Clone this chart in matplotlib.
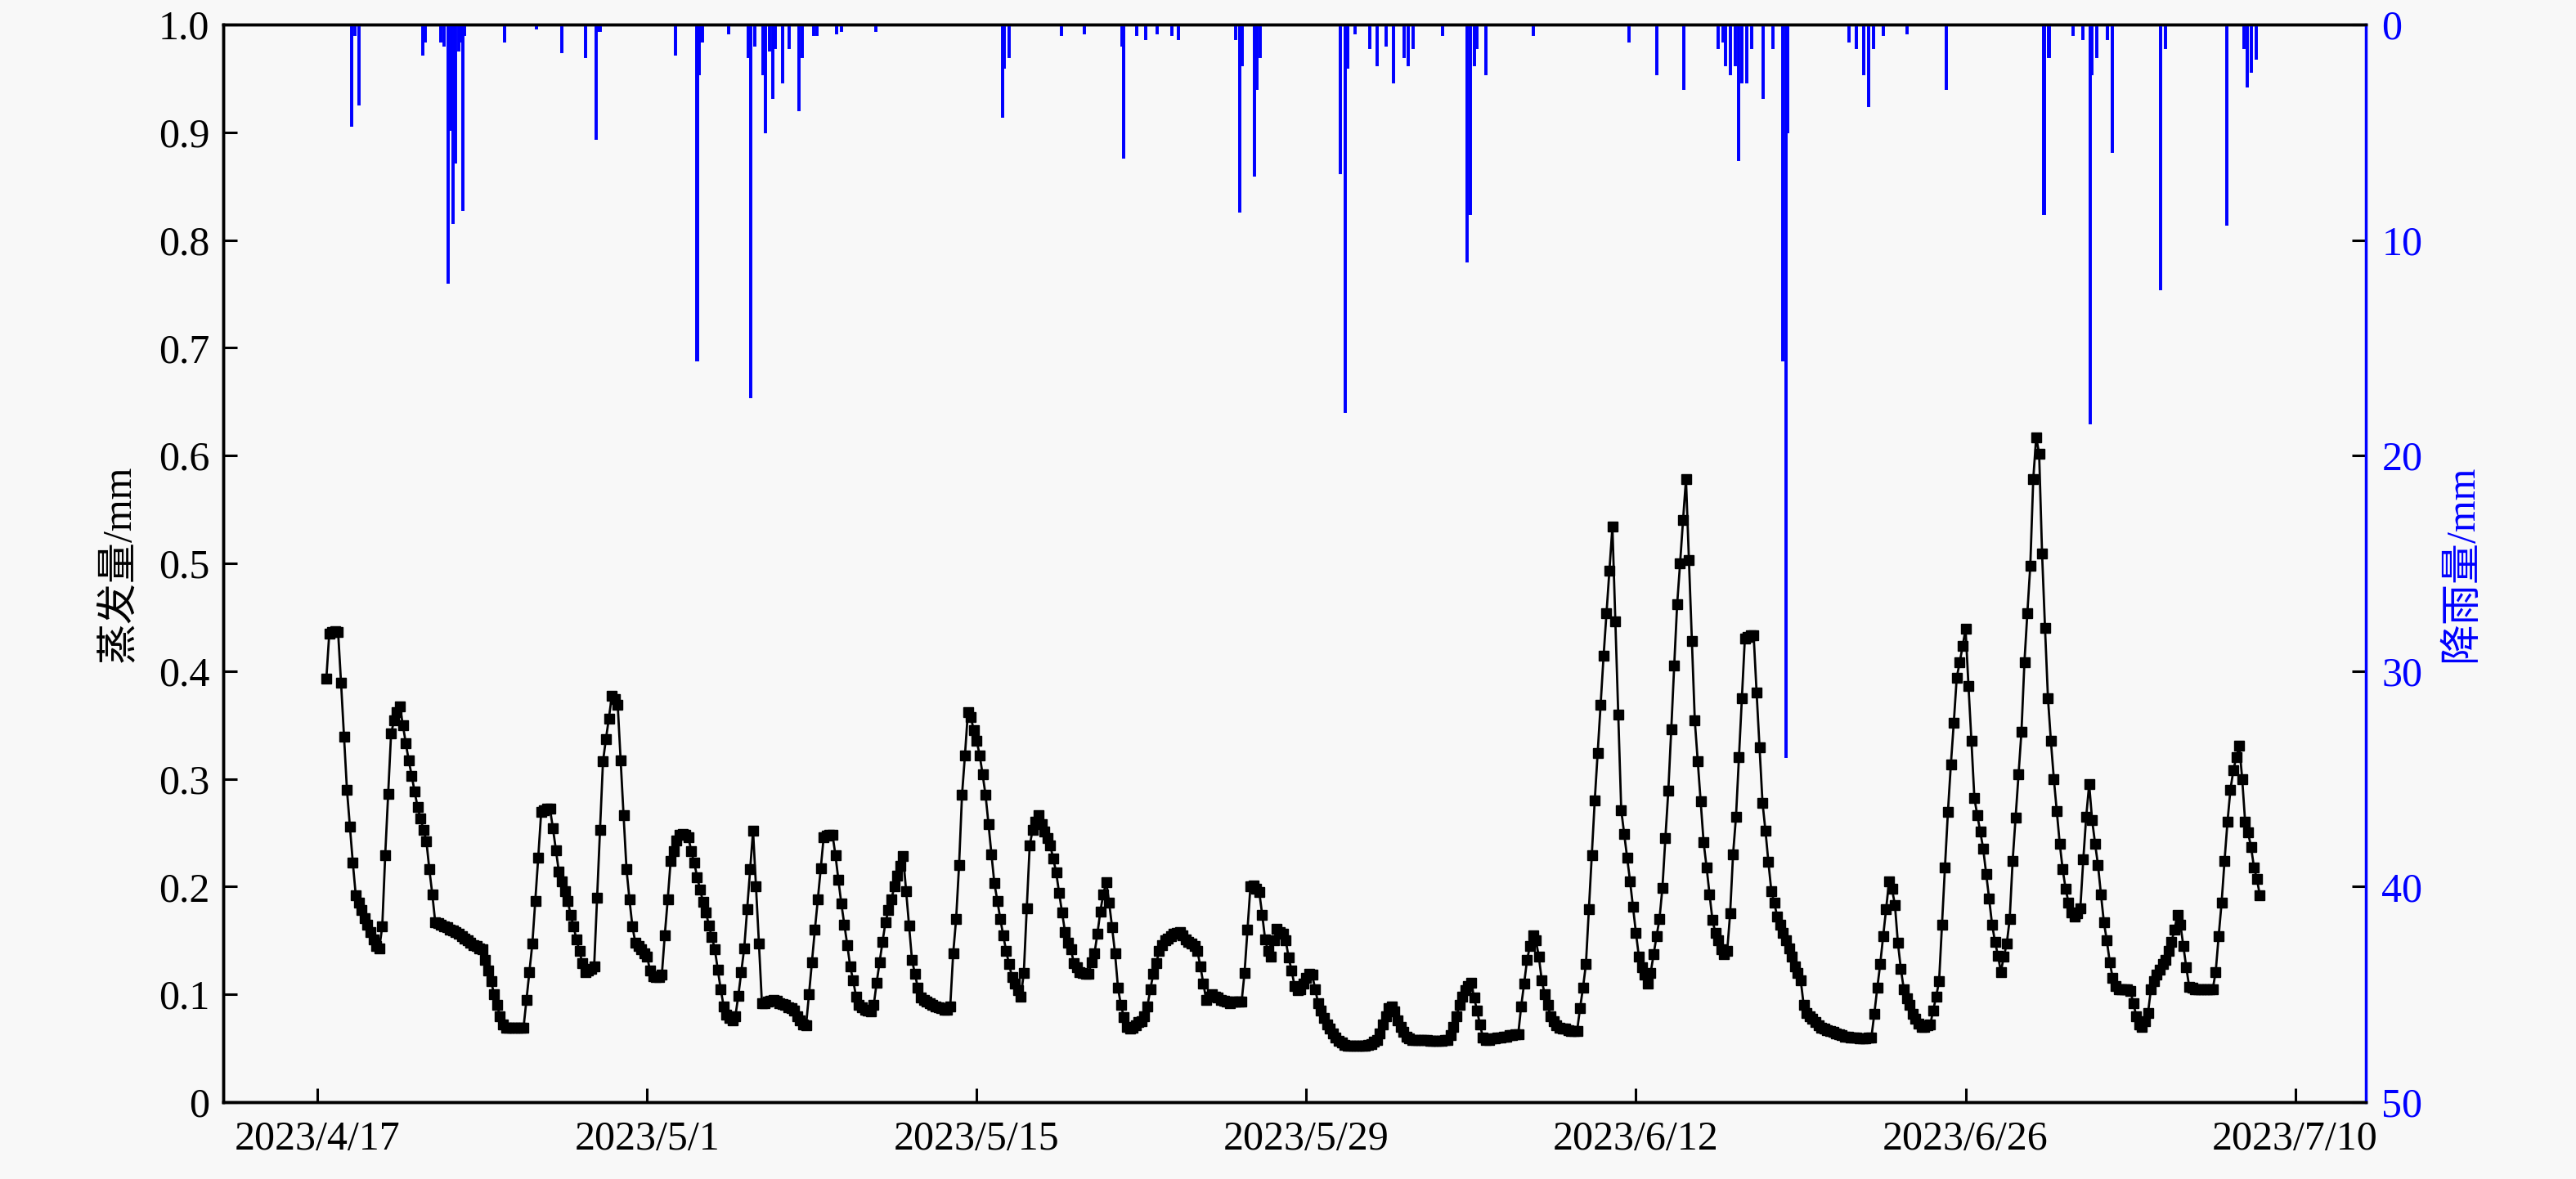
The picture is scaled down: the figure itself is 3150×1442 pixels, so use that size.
import matplotlib
matplotlib.use("Agg")
import matplotlib.pyplot as plt
import matplotlib.dates as mdates
from matplotlib.ticker import FixedLocator
import pandas as pd
import numpy as np

# ---------------- data ----------------
# evaporation (mm), 3-hourly, starting 2023-04-17 09:00
evap_start = "2023-04-17 09:00"
evap_apr = [
    0.393, 0.435, 0.436, 0.437, 0.436,
    0.389, 0.339, 0.290, 0.256, 0.222, 0.192, 0.185, 0.178,
    0.171, 0.165, 0.158, 0.151, 0.145, 0.143, 0.163, 0.229,
    0.286, 0.342, 0.354, 0.362, 0.367, 0.350, 0.333, 0.317,
    0.303, 0.288, 0.274, 0.263, 0.253, 0.242, 0.216, 0.193,
    0.167, 0.166, 0.165, 0.163, 0.162, 0.160, 0.159, 0.158,
    0.156, 0.154, 0.152, 0.150, 0.148, 0.146, 0.145, 0.143,
    0.142, 0.132, 0.122, 0.112, 0.100, 0.090, 0.080, 0.072,
    0.069, 0.069, 0.069, 0.069, 0.069, 0.069, 0.069, 0.095,
    0.121, 0.147, 0.187, 0.227, 0.269, 0.271, 0.272, 0.272,
    0.254, 0.234, 0.214, 0.205, 0.196, 0.187, 0.174, 0.163,
    0.151, 0.140, 0.129, 0.121, 0.122, 0.124, 0.126, 0.190,
    0.253, 0.316, 0.337, 0.356, 0.377, 0.374, 0.369, 0.317,
    0.266, 0.216, 0.188, 0.163, 0.148, 0.145, 0.142, 0.138,
]
evap_may = [
    0.135, 0.122, 0.117, 0.116, 0.116, 0.118, 0.155, 0.188,
    0.224, 0.233, 0.243, 0.248, 0.249, 0.248, 0.246, 0.233,
    0.222, 0.209, 0.197, 0.186, 0.176, 0.164, 0.153, 0.142,
    0.123, 0.105, 0.089, 0.081, 0.078, 0.076, 0.080, 0.099,
    0.121, 0.143, 0.179, 0.216, 0.252, 0.200, 0.147, 0.092,
    0.092, 0.093, 0.094, 0.095, 0.094, 0.092, 0.091, 0.090,
    0.088, 0.087, 0.085, 0.080, 0.076, 0.072, 0.071, 0.100,
    0.130, 0.160, 0.188, 0.217, 0.246, 0.247, 0.248, 0.248,
    0.229, 0.206, 0.184, 0.165, 0.146, 0.126, 0.113, 0.098,
    0.090, 0.088, 0.086, 0.085, 0.084, 0.090, 0.111, 0.130,
    0.149, 0.167, 0.178, 0.188, 0.200, 0.210, 0.219, 0.228,
    0.196, 0.164, 0.132, 0.119, 0.106, 0.097, 0.095, 0.093,
    0.092, 0.090, 0.089, 0.088, 0.087, 0.086, 0.086, 0.089,
    0.138, 0.170, 0.220, 0.285, 0.322, 0.362, 0.357, 0.345,
    0.335, 0.322, 0.304, 0.285, 0.258, 0.230, 0.203, 0.187,
    0.170, 0.155, 0.140, 0.128, 0.116, 0.110, 0.104, 0.098,
    0.120, 0.180, 0.238, 0.253, 0.260, 0.266, 0.258, 0.251,
    0.245, 0.238, 0.226, 0.213, 0.194, 0.176, 0.158, 0.148,
    0.142, 0.129, 0.125, 0.121, 0.120, 0.119, 0.119, 0.130,
    0.138, 0.156, 0.177, 0.193, 0.204, 0.185, 0.162, 0.138,
    0.106, 0.090, 0.079, 0.070, 0.068, 0.069, 0.071, 0.074,
    0.075, 0.080, 0.089, 0.105, 0.119, 0.129, 0.140, 0.146,
    0.150, 0.152, 0.154, 0.156, 0.157, 0.158, 0.155, 0.151,
    0.149, 0.147, 0.145, 0.140, 0.126, 0.110, 0.095, 0.098,
    0.100, 0.098, 0.097, 0.095, 0.094, 0.093, 0.092, 0.093,
    0.093, 0.093, 0.093, 0.120, 0.160, 0.200, 0.201, 0.198,
    0.195, 0.174, 0.151, 0.140, 0.135, 0.150, 0.161, 0.158,
    0.156, 0.150, 0.134, 0.122, 0.108, 0.104, 0.105, 0.110,
    0.115, 0.119, 0.118, 0.105, 0.092, 0.085, 0.078, 0.072,
    0.068, 0.064, 0.060, 0.057, 0.055, 0.053, 0.052, 0.052,
    0.052, 0.052, 0.052, 0.052, 0.052, 0.053, 0.054, 0.056,
]
evap_jun = [
    0.058, 0.064, 0.072, 0.080, 0.087, 0.089, 0.084, 0.076,
    0.070, 0.065, 0.061, 0.059, 0.058, 0.058, 0.058, 0.058,
    0.058, 0.058, 0.057, 0.057, 0.057, 0.057, 0.057, 0.058,
    0.058, 0.062, 0.070, 0.080, 0.090, 0.098, 0.104, 0.108,
    0.111, 0.097, 0.085, 0.072, 0.060, 0.058, 0.058, 0.059,
    0.059, 0.060, 0.060, 0.061, 0.061, 0.062, 0.062, 0.063,
    0.063, 0.089, 0.110, 0.132, 0.145, 0.155, 0.150, 0.135,
    0.113, 0.100, 0.090, 0.080, 0.075, 0.071, 0.069, 0.068,
    0.068, 0.067, 0.066, 0.066, 0.066, 0.087, 0.106, 0.128,
    0.179, 0.229, 0.280, 0.324, 0.369, 0.414, 0.454, 0.493,
    0.534, 0.446, 0.360, 0.271, 0.249, 0.227, 0.205, 0.181,
    0.157, 0.135, 0.125, 0.118, 0.110, 0.120, 0.137, 0.154,
    0.170, 0.199, 0.245, 0.289, 0.346, 0.405, 0.462, 0.500,
    0.540, 0.578, 0.503, 0.428, 0.354, 0.316, 0.279, 0.241,
    0.218, 0.193, 0.169, 0.157, 0.150, 0.142, 0.137, 0.140,
    0.175, 0.230, 0.265, 0.320, 0.375, 0.430, 0.432, 0.433,
    0.433, 0.380, 0.329, 0.278, 0.252, 0.223, 0.196, 0.185,
    0.172, 0.165, 0.157, 0.150, 0.143, 0.135, 0.126, 0.120,
    0.113, 0.090, 0.083, 0.080, 0.077, 0.074, 0.071, 0.069,
    0.068, 0.067, 0.066, 0.065, 0.064, 0.063, 0.062, 0.061,
    0.061, 0.060, 0.060, 0.060, 0.059, 0.059, 0.059, 0.060,
    0.060, 0.082, 0.106, 0.128, 0.154, 0.179, 0.205, 0.198,
    0.183, 0.148, 0.124, 0.105, 0.096, 0.090, 0.082, 0.077,
    0.073, 0.070, 0.070, 0.071, 0.072, 0.085, 0.098, 0.112,
    0.165, 0.218, 0.269, 0.313, 0.352, 0.394, 0.408, 0.423,
    0.439, 0.386, 0.335, 0.282, 0.266, 0.251, 0.235, 0.212,
    0.189, 0.165, 0.149, 0.136, 0.121, 0.135, 0.147, 0.170,
    0.224, 0.264, 0.304, 0.344, 0.408, 0.454, 0.498, 0.578,
    0.617, 0.602, 0.509, 0.440, 0.375, 0.335, 0.300, 0.270,
    0.240, 0.216, 0.198, 0.185, 0.176, 0.172, 0.175, 0.180,
]
evap_jul = [
    0.225, 0.265, 0.295, 0.262, 0.240, 0.220, 0.193, 0.167,
    0.150, 0.130, 0.115, 0.108, 0.105, 0.105, 0.105, 0.105,
    0.103, 0.092, 0.080, 0.072, 0.070, 0.075, 0.083, 0.105,
    0.112, 0.118, 0.123, 0.128, 0.132, 0.140, 0.149, 0.160,
    0.174, 0.165, 0.145, 0.125, 0.107, 0.106, 0.105, 0.105,
    0.105, 0.105, 0.105, 0.105, 0.105, 0.121, 0.154, 0.185,
    0.224, 0.260, 0.290, 0.308, 0.320, 0.331, 0.300, 0.260,
    0.250, 0.237, 0.218, 0.207, 0.192,
]

# rainfall (mm), hourly events
rain_time = [
    "2023-04-18 11:00", "2023-04-18 14:00", "2023-04-18 18:00",
    "2023-04-21 11:00", "2023-04-21 14:00",
    "2023-04-22 06:00", "2023-04-22 09:00", "2023-04-22 13:00", "2023-04-22 15:00",
    "2023-04-22 16:00", "2023-04-22 18:00", "2023-04-22 21:00", "2023-04-23 00:00",
    "2023-04-23 02:00", "2023-04-23 04:00", "2023-04-23 06:00",
    "2023-04-24 23:00", "2023-04-26 07:00", "2023-04-27 09:00", "2023-04-28 09:00",
    "2023-04-28 20:00", "2023-04-28 22:00", "2023-04-29 00:00",
    "2023-05-02 05:00", "2023-05-03 03:00", "2023-05-03 05:00", "2023-05-03 08:00",
    "2023-05-04 11:00", "2023-05-05 07:00", "2023-05-05 10:00", "2023-05-05 14:00",
    "2023-05-05 22:00", "2023-05-06 01:00", "2023-05-06 05:00", "2023-05-06 08:00",
    "2023-05-06 11:00", "2023-05-06 18:00", "2023-05-07 01:00", "2023-05-07 11:00",
    "2023-05-07 14:00", "2023-05-08 02:00", "2023-05-08 05:00", "2023-05-09 01:00",
    "2023-05-09 06:00", "2023-05-10 17:00",
    "2023-05-16 02:00", "2023-05-16 04:00", "2023-05-16 09:00",
    "2023-05-18 14:00", "2023-05-19 14:00", "2023-05-21 04:00", "2023-05-21 06:00",
    "2023-05-21 19:00", "2023-05-22 04:00", "2023-05-22 16:00", "2023-05-23 07:00",
    "2023-05-23 14:00",
    "2023-05-26 00:00", "2023-05-26 04:00", "2023-05-26 07:00", "2023-05-26 19:00",
    "2023-05-26 22:00", "2023-05-27 01:00",
    "2023-05-30 11:00", "2023-05-30 16:00", "2023-05-30 18:00", "2023-05-31 02:00",
    "2023-05-31 17:00", "2023-06-01 00:00", "2023-06-01 09:00", "2023-06-01 17:00",
    "2023-06-02 04:00", "2023-06-02 08:00", "2023-06-02 13:00", "2023-06-03 19:00",
    "2023-06-04 20:00", "2023-06-04 23:00", "2023-06-05 03:00", "2023-06-05 06:00",
    "2023-06-05 15:00", "2023-06-07 15:00",
    "2023-06-11 17:00", "2023-06-12 21:00", "2023-06-14 01:00",
    "2023-06-15 12:00", "2023-06-15 17:00", "2023-06-15 19:00", "2023-06-16 00:00",
    "2023-06-16 05:00", "2023-06-16 09:00", "2023-06-16 12:00", "2023-06-16 17:00",
    "2023-06-16 22:00", "2023-06-17 10:00", "2023-06-17 20:00",
    "2023-06-18 06:00", "2023-06-18 09:00", "2023-06-18 11:00",
    "2023-06-21 01:00", "2023-06-21 09:00", "2023-06-21 16:00", "2023-06-21 21:00",
    "2023-06-22 02:00", "2023-06-22 12:00", "2023-06-23 12:00", "2023-06-25 04:00",
    "2023-06-29 08:00", "2023-06-29 13:00", "2023-06-30 14:00", "2023-07-01 00:00",
    "2023-07-01 07:00", "2023-07-01 09:00", "2023-07-01 14:00", "2023-07-02 01:00",
    "2023-07-02 06:00", "2023-07-04 07:00", "2023-07-04 12:00",
    "2023-07-07 02:00", "2023-07-07 20:00", "2023-07-07 23:00", "2023-07-08 03:00",
    "2023-07-08 08:00",
]
rain_mm = [
    4.7, 0.5, 3.7,
    1.4, 0.8,
    0.8, 1.0, 12.0, 3.0,
    4.9, 9.2, 6.4, 1.2,
    0.8, 8.6, 0.5,
    0.8, 0.2, 1.3, 1.5,
    5.3, 0.3, 0.3,
    1.4, 15.6, 2.3, 0.8,
    0.4, 1.5, 17.3, 1.0,
    2.3, 5.0, 1.2, 3.4,
    1.1, 2.7, 1.1, 4.0,
    1.5, 0.5, 0.5, 0.4,
    0.3, 0.3,
    4.3, 2.0, 1.5,
    0.5, 0.4, 1.0, 6.2,
    0.5, 0.7, 0.4, 0.5,
    0.7,
    0.7, 8.7, 1.9, 7.0,
    3.0, 1.5,
    6.9, 18.0, 2.0, 0.4,
    1.1, 1.9, 1.0, 2.7,
    1.5, 1.9, 1.1, 0.5,
    11.0, 8.8, 1.9, 1.1,
    2.3, 0.5,
    0.8, 2.3, 3.0,
    1.1, 0.8, 1.9, 2.3,
    1.9, 6.3, 2.7, 2.7,
    1.1, 3.4, 1.1,
    15.6, 34.0, 5.0,
    0.8, 1.1, 2.3, 3.8,
    1.1, 0.5, 0.4, 3.0,
    8.8, 1.5, 0.5, 0.7,
    18.5, 2.3, 1.5, 0.7,
    5.9, 12.3, 1.1,
    9.3, 1.1, 2.9, 2.2,
    1.6,
]

xtick_dates = ["2023-04-17", "2023-05-01", "2023-05-15", "2023-05-29",
               "2023-06-12", "2023-06-26", "2023-07-10"]
x_range = ["2023-04-13", "2023-07-13"]
left_ticks = [0, 0.1, 0.2, 0.3, 0.4, 0.5, 0.6, 0.7, 0.8, 0.9, 1.0]
left_ticklabels = ["0", "0.1", "0.2", "0.3", "0.4", "0.5", "0.6", "0.7", "0.8", "0.9", "1.0"]
right_ticks = [0, 10, 20, 30, 40, 50]
left_label = "蒸发量/mm"
right_label = "降雨量/mm"

# ---------------- plot ----------------
BG = "#f8f8f8"
plt.rcParams["font.family"] = ["Liberation Serif", "Noto Sans CJK SC", "DejaVu Sans"]

evap = evap_apr + evap_may + evap_jun + evap_jul
evap_t = pd.date_range(evap_start, periods=len(evap), freq="3h")
rain_t = pd.to_datetime(rain_time)

fig = plt.figure(figsize=(31.5, 14.42), dpi=100, facecolor=BG)
ax = fig.add_axes([0.0867, 0.0652, 0.8317, 0.9140])
ax.set_facecolor(BG)
ax2 = ax.twinx()

ax.plot(evap_t, evap, color="black", lw=2.0, marker="s", ms=9,
        markerfacecolor="black", markeredgecolor="black", zorder=3)

ax2.bar(rain_t, rain_mm, width=0.07, color="#0000ff", edgecolor="#0000ff",
        linewidth=1.4, align="center", zorder=2)

ax.set_xlim(pd.Timestamp(x_range[0]), pd.Timestamp(x_range[1]))
ax.set_ylim(0, 1.0)
ax2.set_ylim(50, 0)

tick_ts = pd.to_datetime(xtick_dates)
ax.xaxis.set_major_locator(FixedLocator(mdates.date2num(tick_ts)))
ax.set_xticklabels([f"{d.year}/{d.month}/{d.day}" for d in tick_ts])
ax.set_yticks(left_ticks)
ax.set_yticklabels(left_ticklabels)
ax2.set_yticks(right_ticks)
ax2.set_yticklabels([str(v) for v in right_ticks])

ax.tick_params(axis="both", direction="in", length=12, width=2.2,
               labelsize=36, colors="black")
ax.tick_params(axis="x", pad=16)
ax.tick_params(axis="y", pad=12)
ax2.tick_params(axis="y", direction="in", length=12, width=2.2,
                labelsize=36, colors="black", labelcolor="#0000ff", pad=14)

for sp in ["left", "bottom", "top"]:
    ax2.spines[sp].set_color("black")
    ax2.spines[sp].set_linewidth(2.5)
    ax.spines[sp].set_linewidth(2.5)
ax2.spines["right"].set_color("#0000ff")
ax2.spines["right"].set_linewidth(2.5)

ax.set_ylabel(left_label, fontsize=36, color="black", labelpad=18)
ax2.set_ylabel(right_label, fontsize=36, color="#0000ff", labelpad=18)

fig.savefig("out.png", dpi=100, facecolor=BG)
